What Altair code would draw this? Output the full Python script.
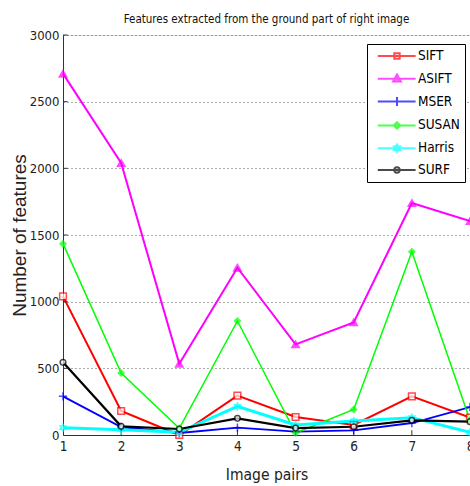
import altair as alt
import pandas as pd

pairs = [1, 2, 3, 4, 5, 6, 7, 8]
names = ["SIFT", "ASIFT", "MSER", "SUSAN", "Harris", "SURF"]
SIFT = [1040, 180, 0, 295, 135, 75, 290, 130]
ASIFT = [2710, 2040, 535, 1255, 680, 845, 1740, 1605]
MSER = [290, 60, 15, 55, 25, 35, 90, 210]
SUSAN = [1435, 465, 50, 855, 15, 192, 1375, 110]
Harris = [55, 40, 20, 215, 75, 105, 130, 20]
SURF = [545, 65, 45, 125, 52, 62, 110, 100]
series_values = [SIFT, ASIFT, MSER, SUSAN, Harris, SURF]
y_ticks = [0, 500, 1000, 1500, 2000, 2500, 3000]

colors = ["#FF0000", "#FF00FF", "#0000FF", "#00FF00", "#00FFFF", "#000000"]
fills = ["#FFFFFF", "#FF00FF", "#0000FF", "#00FF00", "#00FFFF", "#FFFFFF"]
widths = [2, 2, 1.8, 1.5, 3, 2.2]
hexagram = "M0,-1L0.866,0.5L-0.866,0.5Z M0,1L0.866,-0.5L-0.866,-0.5Z"
plot_shapes = ["square", "triangle-up", "M-1,0H1M0,-1V1", "diamond", hexagram, "circle"]
plot_sizes = [45, 55, 70, 35, 45, 32]

# legend glyphs: line segment with the marker in the middle (unit = 6px)
ln = "M-0.2,0H6.1"
c = 3.0
legend_paths = [
    ln + f"M{c-0.45},-0.45H{c+0.45}V0.45H{c-0.45}Z",
    ln + f"M{c},-0.7L{c+0.65},0.45H{c-0.65}Z",
    ln + f"M{c},-0.75V0.75",
    ln + f"M{c},-0.55L{c+0.55},0L{c},0.55L{c-0.55},0Z",
    ln + f"M{c},-0.6L{c+0.52},0.3L{c-0.52},0.3Z M{c},0.6L{c+0.52},-0.3L{c-0.52},-0.3Z",
    ln + f"M{c-0.45},0A0.45,0.45 0 1,0 {c+0.45},0A0.45,0.45 0 1,0 {c-0.45},0Z",
]

rows = []
for i, (nm, vals) in enumerate(zip(names, series_values)):
    for x, v in zip(pairs, vals):
        rows.append(dict(series=nm, pair=x, value=v, color=colors[i], fill=fills[i],
                         sw=widths[i], shp=plot_shapes[i], sz=plot_sizes[i], k=i))
df = pd.DataFrame(rows)

NARROW = "DejaVu Sans Condensed, Liberation Sans, sans-serif"
REG = "Liberation Sans, Arial, sans-serif"

xs = alt.X("pair:Q", scale=alt.Scale(domain=[1, 8], nice=False, zero=False),
           axis=alt.Axis(values=pairs, title="Image pairs", grid=False, ticks=False,
                         labelFont=NARROW, labelFontSize=13.5, labelPadding=4, labelColor="#222",
                         labelFlush=False, titleFont=NARROW, titleFontSize=15.5,
                         titleFontWeight="normal", titleColor="#222", titleY=44,
                         titleBaseline="alphabetic", domainColor="#333", format="d"))
ys = alt.Y("value:Q", scale=alt.Scale(domain=[0, 3000], nice=False),
           axis=alt.Axis(values=y_ticks, title="Number of features", grid=True,
                         gridDash=[1, 3], gridColor="#333", gridOpacity=0.8, ticks=False,
                         labelFont=NARROW, labelFontSize=13, labelPadding=4, labelColor="#222",
                         titleFont=REG, titleFontSize=19, titleFontWeight="normal",
                         titleColor="#222", titleX=-38, titleY=200, titleAngle=-90,
                         titleBaseline="alphabetic", titleAlign="center",
                         domainColor="#333", format="d"))

base = alt.Chart(df)
lines = base.mark_line().encode(
    x=xs, y=ys,
    color=alt.Color("color:N", scale=None),
    strokeWidth=alt.StrokeWidth("sw:Q", scale=None),
    detail="series:N",
    order="pair:Q",
)
points = base.mark_point(filled=True, strokeWidth=1.5).encode(
    x="pair:Q", y="value:Q",
    shape=alt.Shape("shp:N", scale=None),
    fill=alt.Fill("fill:N", scale=None),
    stroke=alt.Stroke("color:N", scale=None),
    size=alt.Size("sz:Q", scale=None),
)

leg = dict(title=None, orient="none", legendX=304, legendY=9, padding=5,
           strokeColor="#000", fillColor="#FFFFFF", symbolSize=144, symbolStrokeWidth=2,
           symbolOpacity=1, labelOffset=32, labelFont=NARROW, labelFontSize=13.5,
           labelColor="#000", rowPadding=6.8, labelLimit=200)
legend_layer = base.mark_point(filled=True, opacity=0).encode(
    x="pair:Q", y="value:Q",
    stroke=alt.Stroke("series:N", scale=alt.Scale(domain=names, range=colors),
                      legend=alt.Legend(**leg)),
    fill=alt.Fill("series:N", scale=alt.Scale(domain=names, range=fills),
                  legend=alt.Legend(**leg)),
    shape=alt.Shape("series:N", scale=alt.Scale(domain=names, range=legend_paths),
                    legend=alt.Legend(**leg)),
)

xt = pd.DataFrame({"pair": pairs[1:-1]})
xticks = alt.Chart(xt).mark_rule(color="#333", strokeWidth=1).encode(
    x="pair:Q", y=alt.datum(0), y2=alt.datum(36))
yt = pd.DataFrame({"value": y_ticks[1:]})
yticks = alt.Chart(yt).mark_rule(color="#333", strokeWidth=1).encode(
    y="value:Q", x=alt.datum(1), x2=alt.datum(1.08))

chart = alt.layer(lines, xticks, yticks, points, legend_layer).properties(
    width=407, height=400,
    title=alt.TitleParams("Features extracted from the ground part of right image",
                          font=NARROW, fontSize=11.5, fontWeight="normal", color="#111",
                          anchor="middle", offset=14, baseline="alphabetic", dy=19),
    autosize=alt.AutoSizeParams(type="none"),
    padding={"left": 63, "top": 35, "right": 0, "bottom": 51},
).configure_view(stroke=None).configure(background="white")

chart.save("out.html", embed_options={"renderer": "svg", "actions": False})
